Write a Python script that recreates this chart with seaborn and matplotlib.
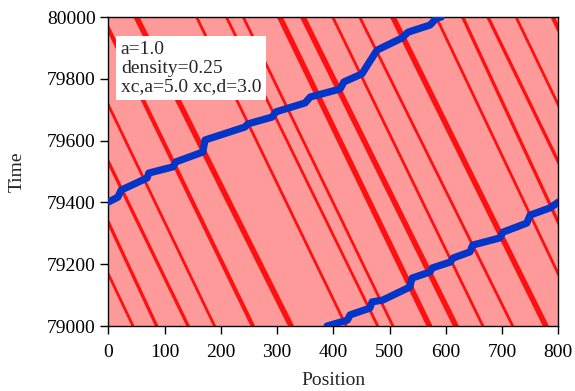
import numpy as np
import pandas as pd
import matplotlib
matplotlib.use("Agg")
import matplotlib.pyplot as plt
import seaborn as sns

# ---- data ----
# jam stripes: position at t=80000 (top) and at t=79000 (bottom, unwrapped)
jam_x_top = [50, 157, 210, 240, 305, 346, 399, 447, 506, 583, 630, 675, 725, 790]
jam_x_bottom = [325, 423, 479, 506, 571, 618, 666, 719, 778, 844, 886, 942, 989, 1057]
jam_width = [4.0, 2.0, 2.0, 2.0, 4.0, 4.0, 2.0, 2.0, 4.0, 2.0, 2.4, 2.4, 2.0, 3.0]

# tracked vehicle, first pass (t 79000..79400)
track1_x = [389, 425, 430, 465, 469, 488, 536, 540, 572, 576, 608, 613, 643, 648, 696,
            702, 744, 750, 785, 798, 800]
track1_t = [79000, 79019, 79036, 79058, 79078, 79084, 79126, 79155, 79175, 79188, 79207,
            79220, 79240, 79262, 79285, 79304, 79333, 79359, 79382, 79398, 79401]
# tracked vehicle, second pass (t 79400..80000)
track2_x = [0, 17, 23, 69, 72, 115, 120, 168, 172, 243, 248, 291, 298, 350, 359, 412,
            419, 451, 462, 478, 522, 533, 572, 584, 592]
track2_t = [79401, 79417, 79440, 79479, 79495, 79515, 79531, 79563, 79602, 79644, 79654,
            79676, 79693, 79722, 79741, 79767, 79790, 79816, 79848, 79893, 79932, 79951,
            79974, 79997, 80000]

x_ticks = [0, 100, 200, 300, 400, 500, 600, 700, 800]
t_ticks = [79000, 79200, 79400, 79600, 79800, 80000]
L = 800
T0, T1 = 79000, 80000

sns.set_theme(style="ticks")
plt.rcParams["font.family"] = ["Liberation Serif", "DejaVu Serif"]
plt.rcParams["font.size"] = 14

fig = plt.figure(figsize=(5.75, 3.91), dpi=100)
ax = fig.add_axes([0.1883, 0.1662, 0.7826, 0.7903])

ax.set_facecolor("#ff9a9a")

# jam stripes (with periodic copy)
rows = []
for i, (xt, xb) in enumerate(zip(jam_x_top, jam_x_bottom)):
    for k, shift in enumerate([0, -L]):
        rows.append(dict(stripe=f"{i}_{k}", w=jam_width[i], x=xt + shift, t=T1))
        rows.append(dict(stripe=f"{i}_{k}", w=jam_width[i], x=xb + shift, t=T0))
jam = pd.DataFrame(rows)
for sid, g in jam.groupby("stripe"):
    sns.lineplot(data=g, x="x", y="t", ax=ax, color="#ff1010",
                 linewidth=g["w"].iloc[0], sort=False, estimator=None)

track = pd.concat([
    pd.DataFrame(dict(seg=1, x=track1_x, t=track1_t)),
    pd.DataFrame(dict(seg=2, x=track2_x, t=track2_t)),
])
sns.lineplot(data=track, x="x", y="t", units="seg", estimator=None, sort=False,
             ax=ax, color="#0336c8", linewidth=5.2, solid_capstyle="round",
             solid_joinstyle="round", zorder=5)

ax.set_xlim(0, L)
ax.set_ylim(T0, T1)
ax.set_xticks(x_ticks)
ax.set_yticks(t_ticks)
ax.tick_params(direction="out", length=6, width=1, colors="black", labelsize=14)
ax.tick_params(axis="x", pad=7)
ax.tick_params(axis="y", pad=3)
for s in ax.spines.values():
    s.set_color("black")
    s.set_linewidth(1.0)
ax.set_xlabel("Position", fontsize=14, labelpad=8)
ax.set_ylabel("Time", fontsize=14, labelpad=15)

ax.text(0.028, 0.922, "a=1.0\ndensity=0.25\nxc,a=5.0 xc,d=3.0",
        transform=ax.transAxes, va="top", ha="left", fontsize=14, linespacing=1.12,
        bbox=dict(facecolor="white", edgecolor="none", boxstyle="square,pad=0.25"),
        zorder=6)

fig.savefig("out.png", dpi=100)
